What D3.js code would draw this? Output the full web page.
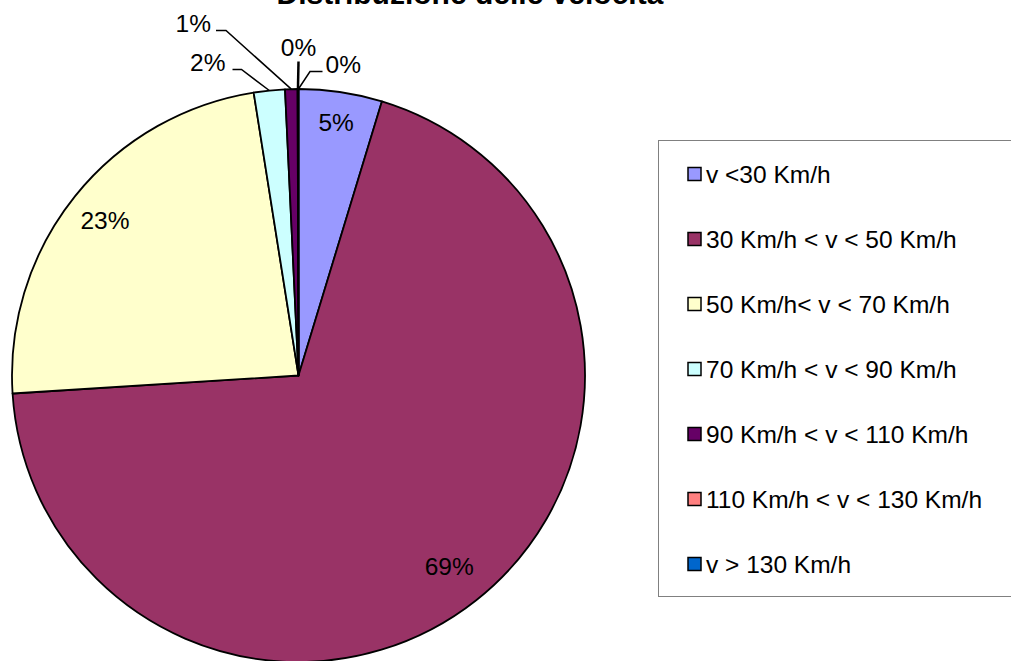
<!DOCTYPE html>
<html>
<head>
<meta charset="utf-8">
<script src="https://cdn.jsdelivr.net/npm/d3@7"></script>
<style>
  body { margin: 0; background: #fff; }
  svg { display: block; font-family: Arial, "Liberation Sans", sans-serif; }
</style>
</head>
<body>
<svg id="chart" width="1011" height="661"></svg>
<script>
// data (percent of vehicles)
var categories = [
  "v <30 Km/h",
  "30 Km/h < v < 50 Km/h",
  "50 Km/h< v < 70 Km/h",
  "70 Km/h < v < 90 Km/h",
  "90 Km/h < v < 110 Km/h",
  "110 Km/h < v < 130 Km/h",
  "v > 130 Km/h"
];
var values = [4.7, 69.3, 23.5, 1.75, 0.7, 0.04, 0.01];
var labels = ["5%", "69%", "23%", "2%", "1%", "0%", "0%"];
var colors = ["#9999FF", "#993366", "#FFFFCC", "#CCFFFF", "#660066", "#FF8080", "#0066CC"];

var title = "Distribuzione delle velocità";

var cx = 298.5, cy = 375.5, radius = 286.5;
var fontSize = "24.5px";

// distance of the labels drawn inside the slices
var innerLabelR = { 0: 256, 1: 243, 2: 248 };
// placement of the labels that sit outside the pie (relative to the centre)
var outerLayout = {
  3: { elbow: [-57, -306], end: [-66, -306], anchor: "end", gap: -7 },
  4: { elbow: [-72.5, -345], end: [-82.5, -345], anchor: "end", gap: -5 },
  5: { elbow: [0, -314], end: [0, -314], anchor: "middle", gap: -6 },
  6: { elbow: [11.5, -304], end: [24, -304], anchor: "start", gap: 3 }
};

var svg = d3.select("#chart");

svg.append("text")
  .attr("x", 470)
  .attr("y", 4)
  .attr("text-anchor", "middle")
  .style("font-size", "30px")
  .style("font-weight", "bold")
  .text(title);

var pie = d3.pie().sort(null).value(function(d) { return d; });
var arcs = pie(values);
var arc = d3.arc().innerRadius(0).outerRadius(radius);
var edgeArc = d3.arc().innerRadius(radius).outerRadius(radius);

var g = svg.append("g").attr("transform", "translate(" + cx + "," + cy + ")");

g.selectAll("path.slice")
  .data(arcs)
  .enter()
  .append("path")
  .attr("class", "slice")
  .attr("d", arc)
  .attr("fill", function(d, i) { return colors[i]; })
  .attr("stroke", "#000")
  .attr("stroke-width", 1.8)
  .attr("stroke-linejoin", "round");

arcs.forEach(function(d, i) {
  var lay = outerLayout[i];
  if (!lay) {
    var r = innerLabelR[i];
    var c = d3.arc().innerRadius(r).outerRadius(r).centroid(d);
    g.append("text")
      .attr("x", c[0])
      .attr("y", c[1])
      .attr("dy", "0.36em")
      .attr("text-anchor", "middle")
      .style("font-size", fontSize)
      .text(labels[i]);
    return;
  }
  var p = edgeArc.centroid(d);
  g.append("polyline")
    .attr("points", [p, lay.elbow, lay.end].map(function(q) { return q.join(","); }).join(" "))
    .attr("fill", "none")
    .attr("stroke", "#000")
    .attr("stroke-width", i === 5 ? 2.5 : 1.5);
  var tx = lay.end[0] + (lay.anchor === "middle" ? 0 : lay.gap);
  var ty = lay.anchor === "middle" ? lay.end[1] + lay.gap : lay.end[1] + 1;
  g.append("text")
    .attr("x", tx)
    .attr("y", ty)
    .attr("text-anchor", lay.anchor)
    .style("font-size", fontSize)
    .text(labels[i]);
});

// legend
var legend = svg.append("g");
legend.append("rect")
  .attr("x", 658.5)
  .attr("y", 140.5)
  .attr("width", 400)
  .attr("height", 456)
  .attr("fill", "#fff")
  .attr("stroke", "#808080")
  .attr("stroke-width", 1);

var row = d3.scaleLinear().domain([0, 1]).range([174, 239]);

var item = legend.selectAll("g.item")
  .data(categories)
  .enter()
  .append("g")
  .attr("class", "item")
  .attr("transform", function(d, i) { return "translate(0," + row(i) + ")"; });

item.append("rect")
  .attr("x", 688)
  .attr("y", -6.5)
  .attr("width", 13)
  .attr("height", 13)
  .attr("fill", function(d, i) { return colors[i]; })
  .attr("stroke", "#000")
  .attr("stroke-width", 1.5);

item.append("text")
  .attr("x", 706)
  .attr("y", 8.5)
  .style("font-size", fontSize)
  .text(function(d) { return d; });
</script>
</body>
</html>
